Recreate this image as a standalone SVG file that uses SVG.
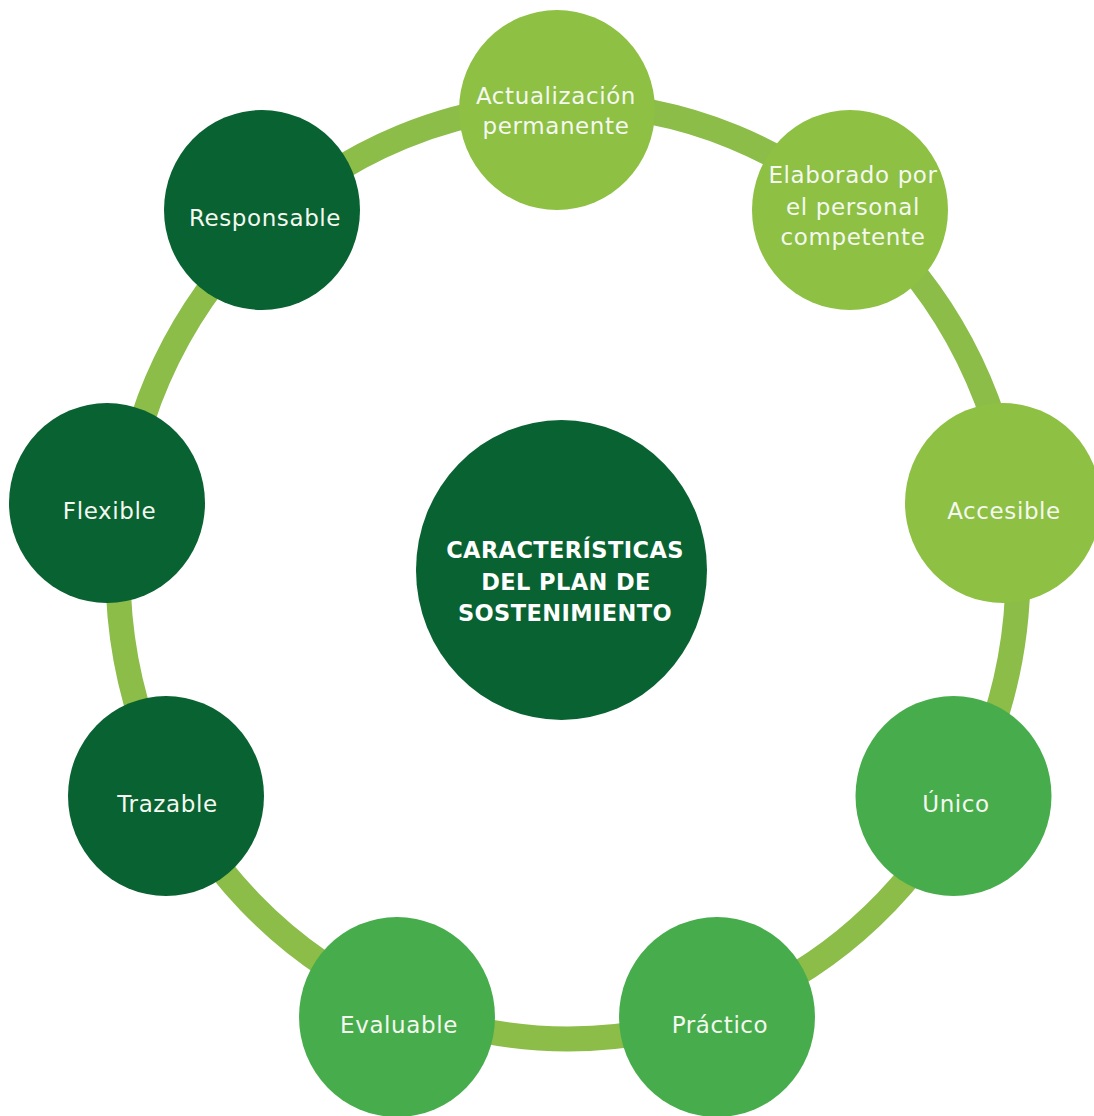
<svg xmlns="http://www.w3.org/2000/svg" width="1094" height="1116" viewBox="0 0 1094 1116">
<style>
.light{fill:#8DC043}
.mid{fill:#47AD4C}
.dark{fill:#086231}
.lbl{font-family:"DejaVu Sans","Liberation Sans",sans-serif;font-size:23px;fill:#F4F8F0;text-anchor:middle;letter-spacing:0.6px}
.title{font-family:"DejaVu Sans","Liberation Sans",sans-serif;font-size:22.5px;font-weight:bold;fill:#FFFFFF;text-anchor:middle;letter-spacing:0.4px}
</style>
<rect width="1094" height="1116" fill="#FFFFFF"/>
<g id="connectors">
<ellipse cx="568" cy="571.5" rx="450" ry="467.5" fill="none" stroke="#8BBD48" stroke-width="25"/>
</g>
<g id="center">
<ellipse cx="561.5" cy="570" rx="145.5" ry="150" class="dark"/>
<text class="title" x="565" y="558">CARACTERÍSTICAS</text>
<text class="title" x="566" y="590">DEL PLAN DE</text>
<text class="title" x="565" y="621">SOSTENIMIENTO</text>
</g>
<g id="actualizacion">
<ellipse cx="557" cy="110" rx="98" ry="100" class="light"/>
<text class="lbl" x="556" y="104">Actualización</text>
<text class="lbl" x="556" y="134">permanente</text>
</g>
<g id="elaborado">
<ellipse cx="850" cy="210" rx="98" ry="100" class="light"/>
<text class="lbl" x="853" y="183">Elaborado por</text>
<text class="lbl" x="853" y="214.5">el personal</text>
<text class="lbl" x="853" y="245">competente</text>
</g>
<g id="accesible">
<ellipse cx="1003" cy="503" rx="98" ry="100" class="light"/>
<text class="lbl" x="1004" y="519">Accesible</text>
</g>
<g id="unico">
<ellipse cx="953.5" cy="796" rx="98" ry="100" class="mid"/>
<text class="lbl" x="956" y="812">Único</text>
</g>
<g id="practico">
<ellipse cx="717" cy="1017" rx="98" ry="100" class="mid"/>
<text class="lbl" x="720" y="1033">Práctico</text>
</g>
<g id="evaluable">
<ellipse cx="397" cy="1017" rx="98" ry="100" class="mid"/>
<text class="lbl" x="399" y="1033">Evaluable</text>
</g>
<g id="trazable">
<ellipse cx="166" cy="796" rx="98" ry="100" class="dark"/>
<text class="lbl" x="167.5" y="812">Trazable</text>
</g>
<g id="flexible">
<ellipse cx="107" cy="503" rx="98" ry="100" class="dark"/>
<text class="lbl" x="109.5" y="519">Flexible</text>
</g>
<g id="responsable">
<ellipse cx="262" cy="210" rx="98" ry="100" class="dark"/>
<text class="lbl" x="265" y="226">Responsable</text>
</g>
</svg>
